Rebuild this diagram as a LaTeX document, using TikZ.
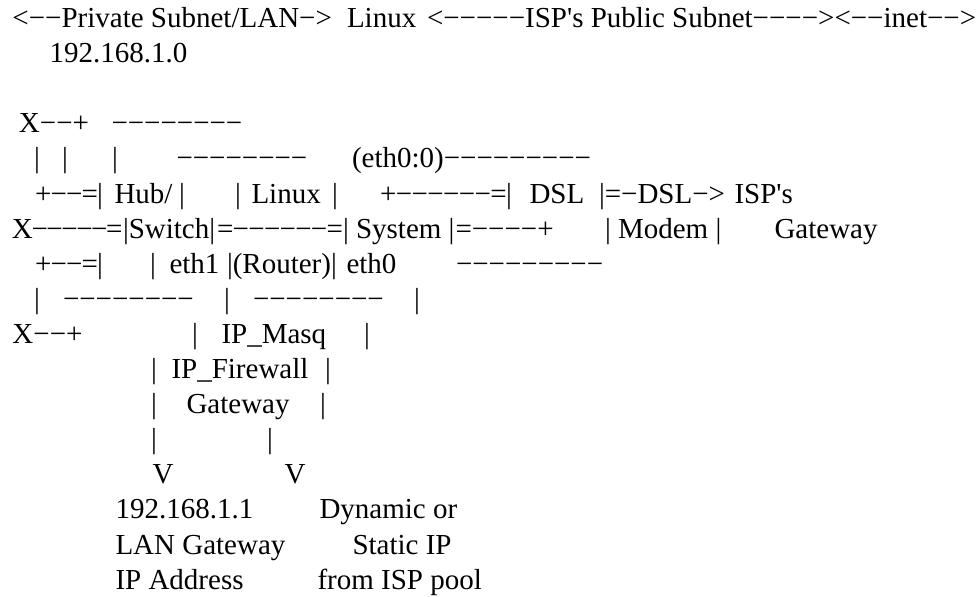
\documentclass[tikz,border=0pt]{standalone}
\usepackage{fontspec}
\newfontfamily\tf{Liberation Serif}
\def\spreadA#1{#1\spreadB}
\def\spreadB#1{\ifx#1\relax\else\hss#1\expandafter\spreadB\fi}
\newcommand\rn[2]{\hbox to #1{\spreadA#2\relax}}
\begin{document}
\begin{tikzpicture}[x=1pt,y=-1pt,
  every node/.style={inner sep=0pt,outer sep=0pt,font=\tf\fontsize{29pt}{35pt}\selectfont},
  t/.style={anchor=base west},
  b/.style={anchor=base}]
\fill[white] (0,0) rectangle (978,597);
\useasboundingbox (0,0) rectangle (978,597);
% line 1
\node[t] (l1a) at (12.5,27.5) {<−−Private Subnet/LAN−>};
\node[t] (l1b) at (347,27.5) {Linux};
\node[t] (l1c) at (427,27.5) {<−−−−−ISP's Public Subnet−−−−><−−inet−−>};
% line 2
\node[t] (l2) at (49.5,62.6) {192.168.1.0};
% line 4
\node[t] (l4a) at (19,132.8) {X−−+};
\node[t] (l4b) at (111.5,132.8) {−−−−−−−−};
% line 5
\node[b] (l5a) at (37,167.9) {|};
\node[b] (l5b) at (65,167.9) {|};
\node[b] (l5c) at (115,167.9) {|};
\node[t] (l5d) at (176.5,167.9) {−−−−−−−−};
\node[t] (l5e) at (352,167.9) {(eth0:0)−−−−−−−−−};
% line 6
\node[t] (l6a) at (35,203) {\rn{68pt}{+−−=|}};
\node[t] (l6b) at (114.5,203) {Hub/};
\node[b] (l6c) at (182,203) {|};
\node[b] (l6d) at (238,203) {|};
\node[t] (l6e) at (251.5,203) {Linux};
\node[b] (l6f) at (335,203) {|};
\node[t] (l6g) at (380,203) {\rn{132pt}{+−−−−−−=|}};
\node[t] (l6h) at (529.5,203) {DSL};
\node[t] (l6i) at (599,203) {|=−DSL−>};
\node[t] (l6j) at (734.5,203) {ISP's};
% line 7
\node[t] (l7a) at (12,238.1) {\rn{110.5pt}{X−−−−−=}};
\node[t] (l7b) at (123,238.1) {|Switch|};
\node[t] (l7c) at (217,238.1) {\rn{126pt}{=−−−−−−=}};
\node[t] (l7d) at (343,238.1) {| System |};
\node[t] (l7e) at (455.5,238.1) {=−−−−+};
\node[t] (l7f) at (605,238.1) {| Modem |};
\node[t] (l7g) at (774.5,238.1) {Gateway};
% line 8
\node[t] (l8a) at (35,273.2) {\rn{68pt}{+−−=|}};
\node[b] (l8b) at (153,273.2) {|};
\node[t] (l8c) at (169.5,273.2) {eth1};
\node[t] (l8d) at (227,273.2) {|(Router)|};
\node[t] (l8e) at (346.5,273.2) {eth0};
\node[t] (l8f) at (456,273.2) {−−−−−−−−−};
% line 9
\node[b] (l9a) at (37,308.3) {|};
\node[t] (l9b) at (63,308.3) {−−−−−−−−};
\node[b] (l9c) at (227,308.3) {|};
\node[t] (l9d) at (253,308.3) {−−−−−−−−};
\node[b] (l9e) at (417,308.3) {|};
% line 10
\node[t] (l10a) at (12.5,343.4) {X−−+};
\node[b] (l10b) at (195,343.4) {|};
\node[t] (l10c) at (221.5,343.4) {IP\_Masq};
\node[b] (l10d) at (367,343.4) {|};
% line 11
\node[b] (l11a) at (154,378.5) {|};
\node[t] (l11b) at (171.5,378.5) {IP\_Firewall};
\node[b] (l11c) at (328,378.5) {|};
% line 12
\node[b] (l12a) at (154,413.6) {|};
\node[t] (l12b) at (186.5,413.6) {Gateway};
\node[b] (l12c) at (323,413.6) {|};
% line 13
\node[b] (l13a) at (154,448.7) {|};
\node[b] (l13b) at (270,448.7) {|};
% line 14
\node[t] (l14a) at (152.5,483.8) {V};
\node[t] (l14b) at (284.5,483.8) {V};
% lines 15-17
\node[t] (l15a) at (115.5,518.9) {192.168.1.1};
\node[t] (l15b) at (319.5,518.9) {Dynamic or};
\node[t] (l16a) at (115.5,554) {LAN Gateway};
\node[t] (l16b) at (352.5,554) {Static IP};
\node[t] (l17a) at (115.5,589.1) {IP Address};
\node[t] (l17b) at (317.5,589.1) {from ISP pool};
\end{tikzpicture}
\end{document}
